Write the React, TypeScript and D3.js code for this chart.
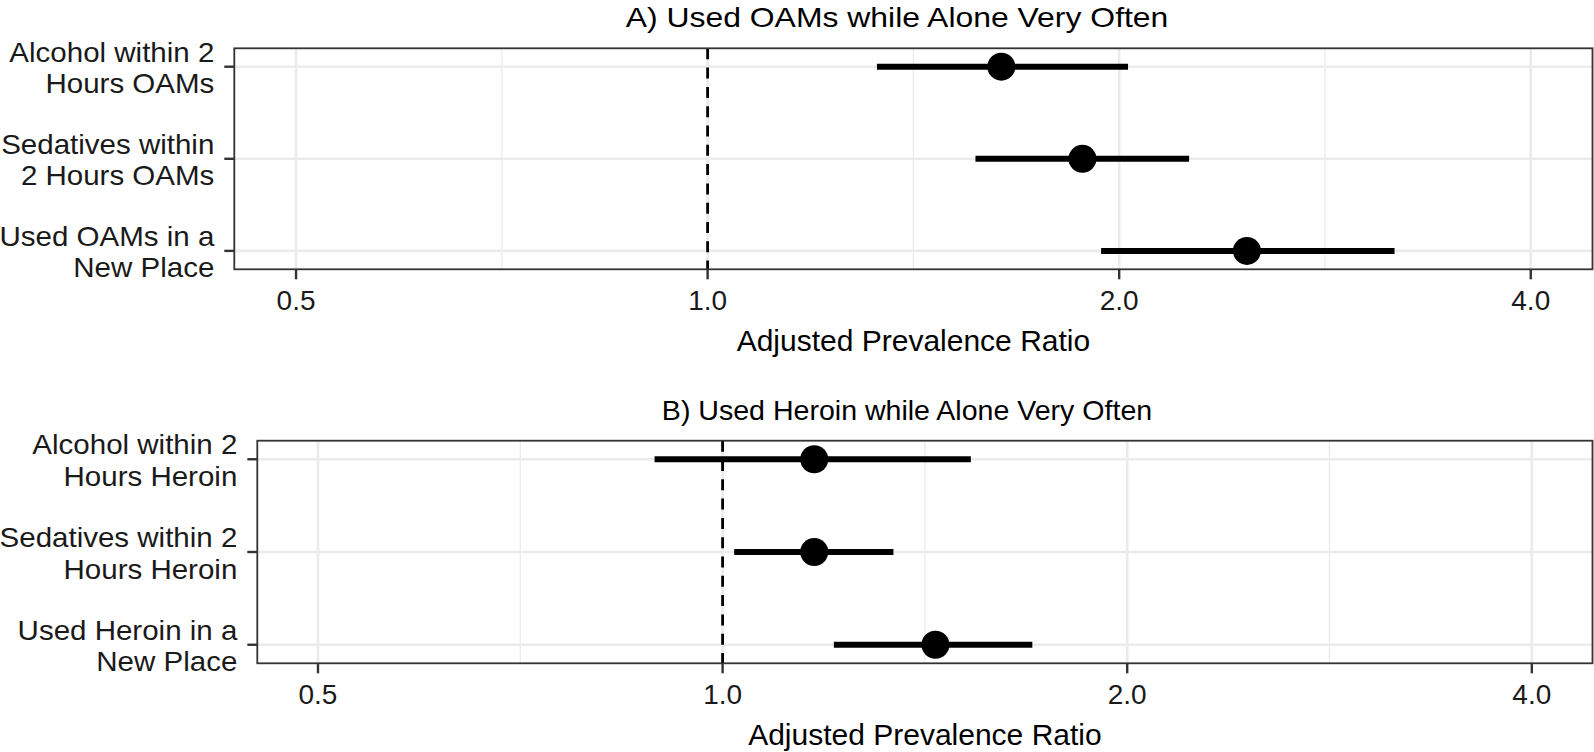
import React from "react";
import * as d3 from "d3";

// ---------- data ----------
const titleA = "A) Used OAMs while Alone Very Often";
const categoriesA = [
  ["Alcohol within 2", "Hours OAMs"],
  ["Sedatives within", "2 Hours OAMs"],
  ["Used OAMs in a", "New Place"],
];
const aprA = [1.64, 1.88, 2.48];
const lowA = [1.33, 1.57, 1.94];
const highA = [2.03, 2.25, 3.18];

const titleB = "B) Used Heroin while Alone Very Often";
const categoriesB = [
  ["Alcohol within 2", "Hours Heroin"],
  ["Sedatives within 2", "Hours Heroin"],
  ["Used Heroin in a", "New Place"],
];
const aprB = [1.17, 1.17, 1.44];
const lowB = [0.89, 1.02, 1.21];
const highB = [1.53, 1.34, 1.7];

const xTicks = [0.5, 1, 2, 4];
const xLabel = "Adjusted Prevalence Ratio";
const refValue = 1;

// ---------- layout ----------
const W = 1594;
const H = 752;
const FONT = "'Liberation Sans', Arial, Helvetica, sans-serif";

type PanelProps = {
  title: string;
  titleX: number;
  titleY: number;
  titleSize: number;
  titleSx: number;
  cats: string[][];
  est: number[];
  lo: number[];
  hi: number[];
  left: number;
  right: number;
  top: number;
  bottom: number;
};

function Panel(p: PanelProps) {
  const x = d3
    .scaleLog()
    .base(2)
    .domain([Math.pow(2, -1.15), Math.pow(2, 2.15)])
    .range([p.left, p.right]);
  const keys = p.cats.map((c) => c.join(" "));
  const y = d3.scalePoint<string>().domain(keys).range([p.top, p.bottom]).padding(0.2);
  const minor = xTicks.slice(1).map((t, i) => Math.sqrt(t * xTicks[i]));
  const fmt = d3.format(".1f");
  const grid = "#EBEBEB";
  const dark = "#333333";
  const ySx = 1.054;
  return (
    <g>
      <text
        transform={`translate(${p.titleX},${p.titleY}) scale(${p.titleSx},1)`}
        fontSize={p.titleSize}
        textAnchor="middle"
        fill="#000"
      >
        {p.title}
      </text>
      {/* grid */}
      {minor.map((m) => (
        <line key={"mn" + m} x1={x(m)} x2={x(m)} y1={p.top} y2={p.bottom} stroke={grid} strokeWidth={1.3} />
      ))}
      {xTicks.map((t) => (
        <line key={"mj" + t} x1={x(t)} x2={x(t)} y1={p.top} y2={p.bottom} stroke={grid} strokeWidth={2.6} />
      ))}
      {keys.map((k) => (
        <line key={"hg" + k} x1={p.left} x2={p.right} y1={y(k)} y2={y(k)} stroke={grid} strokeWidth={2.6} />
      ))}
      {/* reference line */}
      <line
        x1={x(refValue)}
        x2={x(refValue)}
        y1={p.top}
        y2={p.bottom}
        stroke="#000"
        strokeWidth={2.8}
        strokeDasharray="11 8.3"
      />
      {/* error bars and points */}
      {keys.map((k, i) => (
        <g key={"d" + k}>
          <line x1={x(p.lo[i])} x2={x(p.hi[i])} y1={y(k)} y2={y(k)} stroke="#000" strokeWidth={6} />
          <circle cx={x(p.est[i])} cy={y(k)} r={14} fill="#000" />
        </g>
      ))}
      {/* border */}
      <rect
        x={p.left}
        y={p.top}
        width={p.right - p.left}
        height={p.bottom - p.top}
        fill="none"
        stroke={dark}
        strokeWidth={1.8}
      />
      {/* y axis */}
      {keys.map((k, i) => (
        <g key={"yl" + k}>
          <line x1={p.left - 10} x2={p.left} y1={y(k)} y2={y(k)} stroke={dark} strokeWidth={2.4} />
          <text
            transform={`translate(${p.left - 20},${(y(k) as number) - 5}) scale(${ySx},1)`}
            fontSize={28}
            textAnchor="end"
            fill="#1a1a1a"
          >
            {p.cats[i][0]}
          </text>
          <text
            transform={`translate(${p.left - 20},${(y(k) as number) + 26.5}) scale(${ySx},1)`}
            fontSize={28}
            textAnchor="end"
            fill="#1a1a1a"
          >
            {p.cats[i][1]}
          </text>
        </g>
      ))}
      {/* x axis */}
      {xTicks.map((t) => (
        <g key={"xt" + t}>
          <line x1={x(t)} x2={x(t)} y1={p.bottom} y2={p.bottom + 10} stroke={dark} strokeWidth={2.4} />
          <text x={x(t)} y={p.bottom + 41} fontSize={28} textAnchor="middle" fill="#1a1a1a">
            {fmt(t)}
          </text>
        </g>
      ))}
      <text x={(p.left + p.right) / 2} y={p.bottom + 81.5} fontSize={30} textAnchor="middle" fill="#000">
        {xLabel}
      </text>
    </g>
  );
}

export default function App() {
  return (
    <svg
      width={W}
      height={H}
      viewBox={`0 0 ${W} ${H}`}
      style={{ position: "absolute", left: 0, top: 0, background: "#fff", fontFamily: FONT }}
    >
      <rect x={0} y={0} width={W} height={H} fill="#fff" />
      <Panel
        title={titleA}
        titleX={897}
        titleY={26.5}
        titleSize={28.5}
        titleSx={1.12}
        cats={categoriesA}
        est={aprA}
        lo={lowA}
        hi={highA}
        left={234.3}
        right={1592.5}
        top={48.3}
        bottom={269.3}
      />
      <Panel
        title={titleB}
        titleX={907}
        titleY={419.5}
        titleSize={28}
        titleSx={1.02}
        cats={categoriesB}
        est={aprB}
        lo={lowB}
        hi={highB}
        left={257.3}
        right={1592.5}
        top={440.7}
        bottom={663.3}
      />
    </svg>
  );
}
